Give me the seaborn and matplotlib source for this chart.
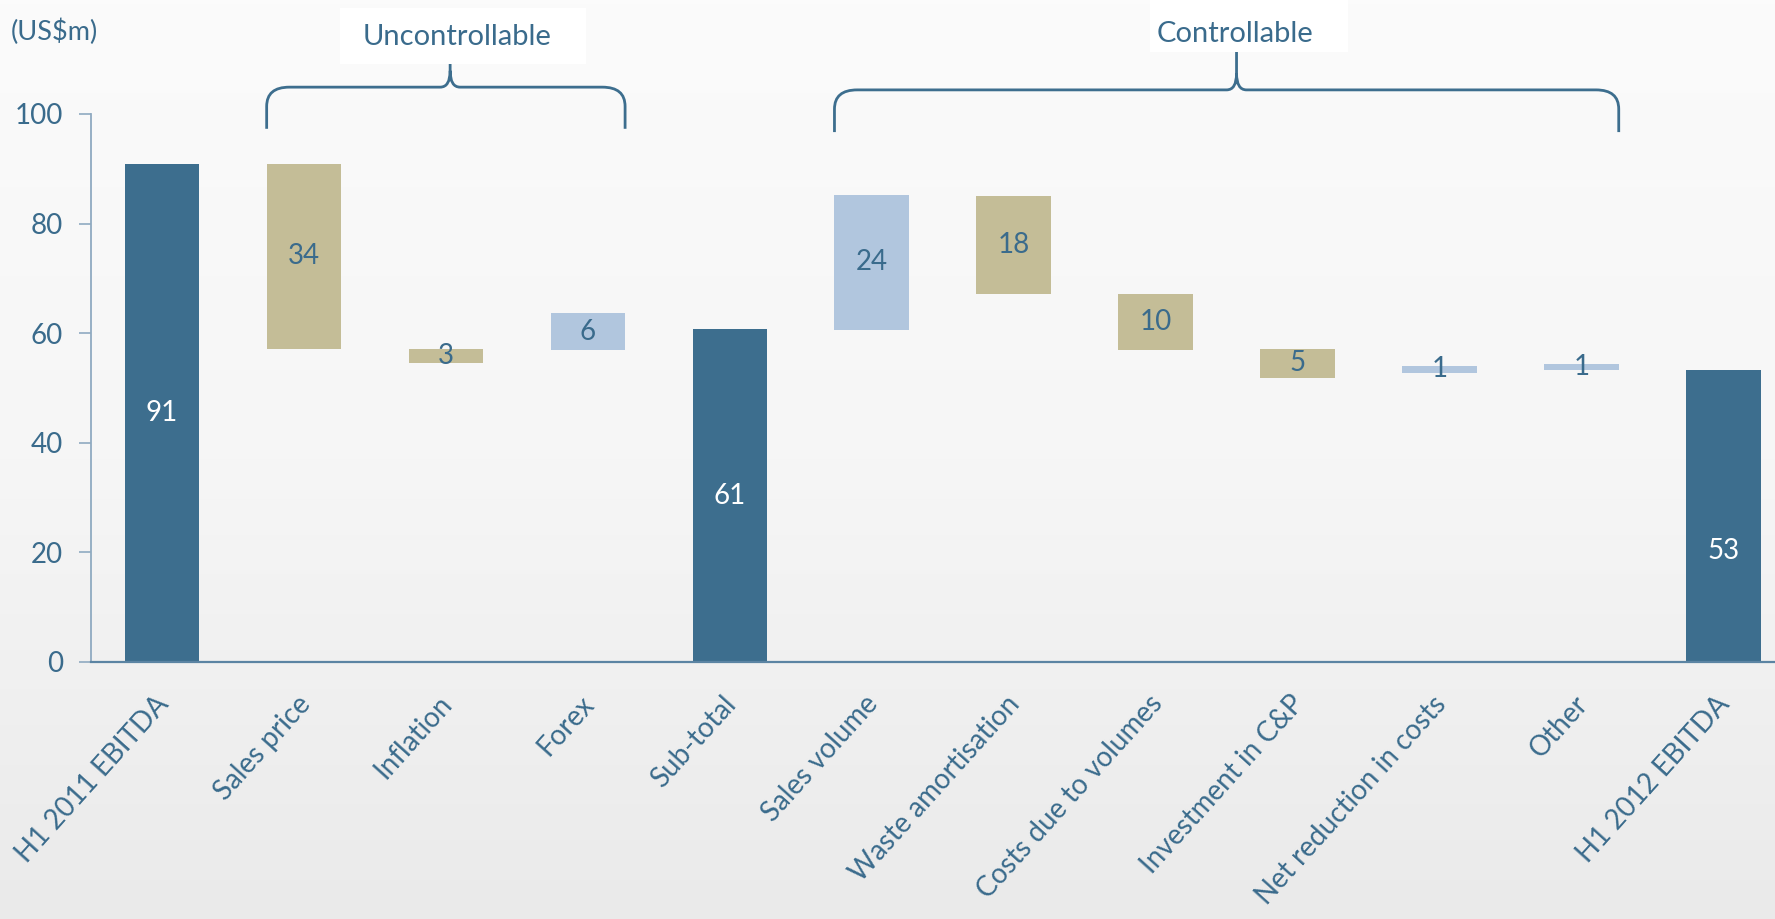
import numpy as np
import matplotlib
matplotlib.use("Agg")
import matplotlib.pyplot as plt
from matplotlib.path import Path
from matplotlib.patches import PathPatch, Rectangle
from matplotlib.colors import LinearSegmentedColormap
import matplotlib.transforms as mtransforms
import seaborn as sns
import pandas as pd

# ---------------- data ----------------
categories = ["H1 2011 EBITDA", "Sales price", "Inflation", "Forex", "Sub-total",
              "Sales volume", "Waste amortisation", "Costs due to volumes",
              "Investment in C&P", "Net reduction in costs", "Other", "H1 2012 EBITDA"]
bar_bottoms = [0, 57.2, 54.6, 57.0, 0, 60.6, 67.1, 57.0, 51.9, 52.7, 53.3, 0]
bar_tops = [90.8, 90.9, 57.2, 63.6, 60.7, 85.3, 85.1, 67.1, 57.2, 54.1, 54.3, 53.3]
value_labels = ["91", "34", "3", "6", "61", "24", "18", "10", "5", "1", "1", "53"]
bar_kinds = ["total", "neg", "neg", "pos", "total", "pos", "neg", "neg", "neg", "pos", "pos", "total"]
y_ticks = [0, 20, 40, 60, 80, 100]
group_names = ["Uncontrollable", "Controllable"]
group_first = [1, 5]
group_last = [3, 10]
unit_label = "(US$m)"

# ---------------- style ----------------
sns.set_theme(style="white")
plt.rcParams["font.family"] = ["Lato", "DejaVu Sans"]

DARK = "#3D6E8E"
TAN = "#C4BD97"
LIGHT = "#B1C6DE"
TXT = "#3A6B8C"
kind_colors = {"total": DARK, "neg": TAN, "pos": LIGHT}
label_colors = {"total": "white", "neg": TXT, "pos": TXT}
label_frac = [0.5] * 11 + [0.38]
BAR_W = 0.525

W, H = 1775, 919
fig = plt.figure(figsize=(W / 100, H / 100), dpi=100)

# background gradient
bg = fig.add_axes([0, 0, 1, 1], zorder=-10)
grad = np.linspace(0, 1, 256)[:, None]
cmap = LinearSegmentedColormap.from_list("bg", ["#FBFBFB", "#F6F6F6", "#EAEAEA"])
bg.imshow(grad, aspect="auto", cmap=cmap, extent=[0, 1, 0, 1], origin="upper")
bg.axis("off")

ax_left, ax_bottom = 91 / W, (H - 662) / H
ax = fig.add_axes([ax_left, ax_bottom, 1 - ax_left, (662 - 114) / H])
ax.patch.set_alpha(0)

df = pd.DataFrame({"category": categories,
                   "height": np.array(bar_tops) - np.array(bar_bottoms)})
sns.barplot(data=df, x="category", y="height", hue="category",
            order=categories, hue_order=categories,
            palette=[kind_colors[k] for k in bar_kinds], legend=False,
            width=BAR_W, saturation=1, ax=ax, linewidth=0)
for p, b in zip(ax.patches, bar_bottoms):
    p.set_y(b)

for i, (b, t, lab, k) in enumerate(zip(bar_bottoms, bar_tops, value_labels, bar_kinds)):
    ax.text(i, b + (t - b) * label_frac[i], lab, ha="center", va="center",
            color=label_colors[k], fontsize=20)

ax.set_xlim(-0.5, -0.5 + (W - 91) / 141.95)
ax.set_ylim(0, 100)
ax.set_yticks(y_ticks)
ax.set_xlabel("")
ax.set_ylabel("")
for s in ["top", "right"]:
    ax.spines[s].set_visible(False)
ax.spines["left"].set_color("#8FAAC1")
ax.spines["left"].set_linewidth(1.3)
ax.spines["bottom"].set_color("#5B84A3")
ax.spines["bottom"].set_linewidth(1.6)
ax.tick_params(axis="y", direction="out", length=9, width=1.2, color="#8FAAC1",
               labelcolor=TXT, labelsize=20, pad=11, left=True)
ax.tick_params(axis="x", length=0, labelcolor=TXT, labelsize=20, pad=27)
ax.set_xticks(range(len(categories)))
ax.set_xticklabels(categories, rotation=48, ha="right", va="center",
                   rotation_mode="anchor")
off = mtransforms.ScaledTranslation(0.02, 0, fig.dpi_scale_trans)
for lbl in ax.get_xticklabels():
    lbl.set_transform(lbl.get_transform() + off)

# braces
def brace(x0, x1, xm, y_leg, y_h, y_tip, rx=0.16, ry=3.5, tx=0.07, ty=3.0):
    verts = [(x0, y_leg), (x0, y_h - ry), (x0, y_h), (x0 + rx, y_h),
             (xm - tx, y_h), (xm, y_h), (xm, y_h + ty), (xm, y_tip),
             (xm, y_h + ty), (xm, y_h), (xm + tx, y_h),
             (x1 - rx, y_h), (x1, y_h), (x1, y_h - ry), (x1, y_leg)]
    codes = [Path.MOVETO, Path.LINETO, Path.CURVE3, Path.CURVE3,
             Path.LINETO, Path.CURVE3, Path.CURVE3, Path.LINETO,
             Path.MOVETO, Path.CURVE3, Path.CURVE3,
             Path.LINETO, Path.CURVE3, Path.CURVE3, Path.LINETO]
    ax.add_patch(PathPatch(Path(verts, codes), fc="none", ec=DARK, lw=2,
                           clip_on=False))

brace(group_first[0] - BAR_W / 2, group_last[0] + BAR_W / 2, 2.03, 97.3, 104.9, 109.3)
brace(group_first[1] - BAR_W / 2, group_last[1] + BAR_W / 2, 7.57, 96.7, 104.4, 111.5)

# label boxes (figure pixel layout)
boxes = [(340, 8, 246, 56), (1150, 0, 198, 52)]
text_pos = [(457, 37), (1235, 34)]
for name, (bx, by, bw, bh), (tx, ty) in zip(group_names, boxes, text_pos):
    fig.patches.append(Rectangle((bx / W, 1 - (by + bh) / H), bw / W, bh / H,
                                 transform=fig.transFigure, fc="white", ec="none",
                                 zorder=5))
    fig.text(tx / W, 1 - ty / H, name, ha="center", va="center", color=TXT,
             fontsize=21, zorder=6)

fig.text(11 / W, 1 - 32 / H, unit_label, ha="left", va="center", color=TXT,
         fontsize=19.5)

fig.savefig("out.png", dpi=100)
